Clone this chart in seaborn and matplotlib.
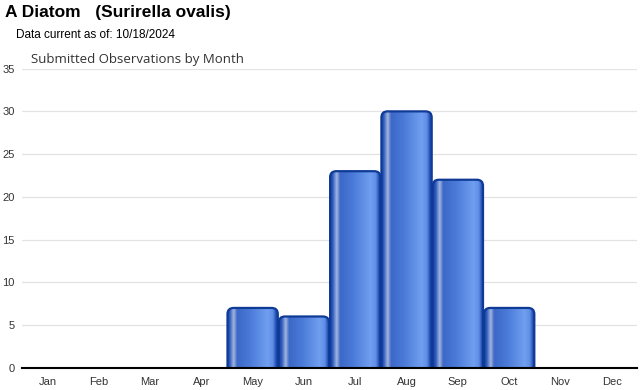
import numpy as np
import pandas as pd
import matplotlib
matplotlib.use("Agg")
import matplotlib.pyplot as plt
import seaborn as sns
from matplotlib.patches import FancyBboxPatch
from matplotlib.colors import LinearSegmentedColormap

# data
months = ['Jan', 'Feb', 'Mar', 'Apr', 'May', 'Jun', 'Jul', 'Aug', 'Sep', 'Oct', 'Nov', 'Dec']
observations = [0, 0, 0, 0, 7, 6, 23, 30, 22, 7, 0, 0]
y_ticks = [0, 5, 10, 15, 20, 25, 30, 35]

df = pd.DataFrame({'Month': months, 'Observations': observations})

sns.set_style("white")
plt.rcParams['font.family'] = ['Liberation Sans', 'DejaVu Sans']

fig = plt.figure(figsize=(6.4, 3.9), dpi=100)
ax = fig.add_axes([0.034, 0.057, 0.962, 0.767])

sns.barplot(data=df, x='Month', y='Observations', color='#3a66cc', width=0.98, ax=ax)

# cylinder-like shading across each bar
grad = LinearSegmentedColormap.from_list('bar', [
    (0.00, '#1a45a6'), (0.05, '#2a58bc'), (0.13, '#a3b6de'), (0.20, '#3c68c8'),
    (0.45, '#4a7ad8'), (0.80, '#709ef0'), (0.90, '#5f8ee6'), (0.96, '#2652b6'),
    (1.00, '#1a45a6')])
shade = np.linspace(0, 1, 256).reshape(1, -1)

for bar in list(ax.patches):
    h = bar.get_height()
    if h <= 0:
        bar.remove()
        continue
    x0 = bar.get_x()
    w = bar.get_width()
    bar.set_visible(False)
    box = FancyBboxPatch((x0, -2), w, h + 2,
                         boxstyle="round,pad=0,rounding_size=0.12",
                         mutation_aspect=5.9, facecolor='none',
                         edgecolor='#0f3a96', linewidth=1.6, zorder=3)
    ax.add_patch(box)
    img = ax.imshow(shade, cmap=grad, aspect='auto', extent=(x0, x0 + w, -2, h),
                    zorder=2, interpolation='bilinear')
    img.set_clip_path(box)

ax.set_xlim(-0.5, 11.5)
ax.set_ylim(0, 35)
ax.set_yticks(y_ticks)
ax.set_xlabel('')
ax.set_ylabel('')
ax.grid(axis='y', color='#e3e3e3', linewidth=0.9)
ax.set_axisbelow(True)
for s in ['top', 'right', 'left']:
    ax.spines[s].set_visible(False)
ax.spines['bottom'].set_color('black')
ax.spines['bottom'].set_linewidth(1.5)
ax.spines['bottom'].set_zorder(5)
ax.tick_params(axis='x', length=4, color='#d0d0d0', labelsize=8, labelcolor='#333333', pad=2.5)
ax.tick_params(axis='y', length=0, labelsize=8, labelcolor='#333333', pad=5)

fig.text(0.008, 0.957, 'A Diatom   (Surirella ovalis)', fontsize=12.5, fontweight='bold', color='black')
fig.text(0.025, 0.903, 'Data current as of: 10/18/2024', fontsize=8.5, color='black')
fig.text(0.049, 0.838, 'Submitted Observations by Month', fontsize=9.5, color='#333333',
         family=['Open Sans', 'DejaVu Sans'])

fig.savefig('out.png', dpi=100)
